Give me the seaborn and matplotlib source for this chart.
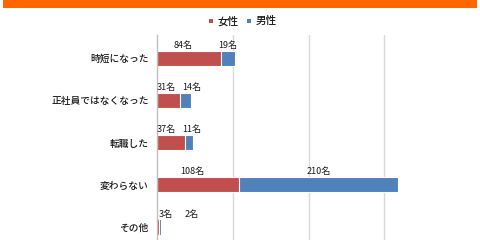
import matplotlib
matplotlib.use("Agg")
import matplotlib.pyplot as plt
import seaborn as sns
import pandas as pd
from matplotlib.patches import Rectangle

categories = ["時短になった", "正社員ではなくなった", "転職した", "変わらない", "その他"]
female = [84, 31, 37, 108, 3]
male = [19, 14, 11, 210, 2]
series_names = ["女性", "男性"]
unit = "名"

RED = "#C0504D"
BLUE = "#4F81BD"

sns.set_theme(style="white")
plt.rcParams['font.family'] = ['Noto Sans CJK JP', 'DejaVu Sans']

fig = plt.figure(figsize=(4.8, 2.4), dpi=100)
ax = fig.add_axes([157/480, 0, 1 - 157/480, 1 - 35/240])

df = pd.DataFrame({"cat": categories, "female": female, "male": male})
df["total"] = df["female"] + df["male"]

sns.barplot(data=df, x="total", y="cat", orient="h", color=BLUE, width=0.36,
            edgecolor="white", linewidth=0.8, ax=ax, saturation=1)
sns.barplot(data=df, x="female", y="cat", orient="h", color=RED, width=0.36,
            edgecolor="white", linewidth=0.8, ax=ax, saturation=1)

xmax = 323 / 0.758
ax.set_xlim(0, xmax)
ax.set_ylim(4.31, -0.55)
ax.set_xticks([100, 200, 300])
ax.set_xticklabels([])
ax.tick_params(axis='x', length=0)
ax.xaxis.grid(True, color="#d9d9d9", linewidth=1.0)
ax.set_axisbelow(True)
for s in ["top", "right", "bottom"]:
    ax.spines[s].set_visible(False)
ax.spines["left"].set_color("#bfbfbf")
ax.spines["left"].set_linewidth(1.0)
ax.set_xlabel("")
ax.set_ylabel("")
ax.tick_params(axis='y', length=0, pad=6)
for t in ax.get_yticklabels():
    t.set_fontsize(7.0)
    t.set_fontweight("medium")
    t.set_color("#1a1a1a")

px = xmax / (480 - 157)  # data units per pixel
for i, (f, m) in enumerate(zip(female, male)):
    fx = max(f / 2 - 6 * px, 9 * px)
    mx = max(f + m / 2, fx + 26 * px)
    ax.text(fx, i - 0.2, f"{f}{unit}", ha="center", va="bottom", fontsize=6.5, color="#1a1a1a")
    ax.text(mx, i - 0.2, f"{m}{unit}", ha="center", va="bottom", fontsize=6.5, color="#1a1a1a")

# orange header band
fig.patches.append(Rectangle((3/480, 1 - 8/240), 474/480, 8/240, transform=fig.transFigure,
                             facecolor="#FF6600", edgecolor="none"))

# legend
fig.patches.append(Rectangle((209/480, 1 - 23/240), 4/480, 4/240, transform=fig.transFigure,
                             facecolor=RED, edgecolor="none"))
fig.text(218/480, 1 - 21/240, series_names[0], fontsize=7.6, fontweight="medium",
         va="center", ha="left", color="#1a1a1a")
fig.patches.append(Rectangle((247/480, 1 - 23/240), 4/480, 4/240, transform=fig.transFigure,
                             facecolor=BLUE, edgecolor="none"))
fig.text(256/480, 1 - 21/240, series_names[1], fontsize=7.6, fontweight="medium",
         va="center", ha="left", color="#1a1a1a")

fig.savefig("out.png", dpi=100)
